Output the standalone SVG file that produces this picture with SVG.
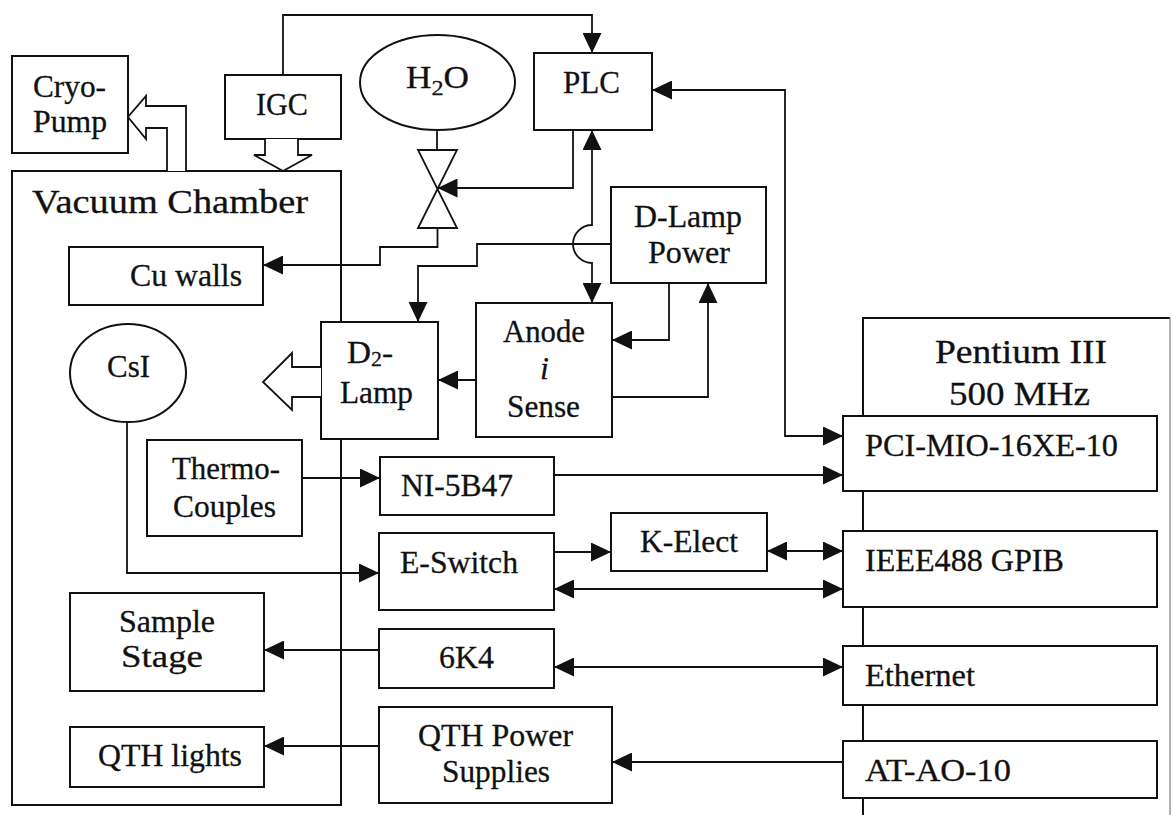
<svg xmlns="http://www.w3.org/2000/svg" width="1173" height="815" viewBox="0 0 1173 815">
<style>
.b{fill:#fff;stroke:#111;stroke-width:2}
.c{fill:none;stroke:#111;stroke-width:1.8}
.h{fill:#fff;stroke:#111;stroke-width:1.8;stroke-linejoin:miter}
.t{font-family:"Liberation Serif","Times New Roman",serif;font-size:32px;fill:#111;stroke:#111;stroke-width:0.3}
.ti{font-family:"Liberation Serif","Times New Roman",serif;font-size:33px;fill:#111;stroke:#111;stroke-width:0.3}
</style>
<defs>
<marker id="ah" markerUnits="userSpaceOnUse" markerWidth="21" markerHeight="19" refX="20" refY="9.5" orient="auto-start-reverse" viewBox="0 0 21 19">
<path d="M0,0 L20,9.5 L0,19 z" fill="#111"/>
</marker>
</defs>
<rect width="1173" height="815" fill="#fff"/>

<g id="vacuum-chamber">
<rect class="b" x="12" y="171" width="329" height="634"/>
<text class="ti" x="32" y="213" textLength="276" lengthAdjust="spacingAndGlyphs">Vacuum Chamber</text>
</g>
<g id="pentium">
<path d="M863,815 V318 H1170" fill="none" stroke="#111" stroke-width="2"/>
<path d="M1170,318 V815" fill="none" stroke="#999" stroke-width="1.5"/>
<text class="ti" x="935" y="363" textLength="172" lengthAdjust="spacingAndGlyphs">Pentium III</text>
<text class="ti" x="949" y="405" textLength="141" lengthAdjust="spacingAndGlyphs">500 MHz</text>
</g>

<g id="cryo-pump">
<rect class="b" x="12" y="56" width="116" height="97"/>
<text class="t" x="33" y="97" textLength="73" lengthAdjust="spacingAndGlyphs">Cryo-</text>
<text class="t" x="33" y="132" textLength="74" lengthAdjust="spacingAndGlyphs">Pump</text>
</g>
<g id="igc">
<rect class="b" x="225" y="75" width="116" height="64"/>
<text class="t" x="256" y="115" textLength="52" lengthAdjust="spacingAndGlyphs">IGC</text>
</g>
<g id="h2o">
<ellipse class="b" cx="437.5" cy="82.5" rx="77.5" ry="47.5"/>
<text class="t" x="406" y="88" font-size="33" textLength="63" lengthAdjust="spacingAndGlyphs">H<tspan font-size="22" dy="7">2</tspan><tspan dy="-7">O</tspan></text>
</g>
<g id="plc">
<rect class="b" x="534" y="53" width="118" height="77"/>
<text class="t" x="563" y="93" textLength="57" lengthAdjust="spacingAndGlyphs">PLC</text>
</g>
<g id="valve">
<path class="h" d="M418,150 L457,150 L418,228 L457,228 Z"/>
</g>
<g id="cu-walls">
<rect class="b" x="69" y="247" width="194" height="58"/>
<text class="t" x="130" y="286" textLength="112" lengthAdjust="spacingAndGlyphs">Cu walls</text>
</g>
<g id="d-lamp-power">
<rect class="b" x="611" y="187" width="155" height="96"/>
<text class="t" x="634" y="227" textLength="108" lengthAdjust="spacingAndGlyphs">D-Lamp</text>
<text class="t" x="648" y="263" textLength="82" lengthAdjust="spacingAndGlyphs">Power</text>
</g>
<g id="d2-lamp">
<rect class="b" x="321" y="322" width="117" height="117"/>
<text class="t" x="347" y="363" textLength="46" lengthAdjust="spacingAndGlyphs">D<tspan font-size="21" dy="3">2</tspan><tspan dy="-3">-</tspan></text>
<text class="t" x="340" y="403" textLength="73" lengthAdjust="spacingAndGlyphs">Lamp</text>
</g>
<g id="anode">
<rect class="b" x="476" y="303" width="136" height="134"/>
<text class="t" x="503" y="342" textLength="82" lengthAdjust="spacingAndGlyphs">Anode</text>
<text class="t" x="540" y="379" font-style="italic">i</text>
<text class="t" x="507" y="417" textLength="73" lengthAdjust="spacingAndGlyphs">Sense</text>
</g>
<g id="csi">
<ellipse class="b" cx="128" cy="373" rx="58" ry="49"/>
<text class="t" x="107" y="377" textLength="43" lengthAdjust="spacingAndGlyphs">CsI</text>
</g>
<g id="thermo-couples">
<rect class="b" x="147" y="440" width="155" height="96"/>
<text class="t" x="172" y="479" textLength="108" lengthAdjust="spacingAndGlyphs">Thermo-</text>
<text class="t" x="173" y="517" textLength="103" lengthAdjust="spacingAndGlyphs">Couples</text>
</g>
<g id="ni-5b47">
<rect class="b" x="380" y="457" width="174" height="58"/>
<text class="t" x="401" y="496" textLength="112" lengthAdjust="spacingAndGlyphs">NI-5B47</text>
</g>
<g id="e-switch">
<rect class="b" x="379" y="533" width="175" height="77"/>
<text class="t" x="400" y="573" textLength="118" lengthAdjust="spacingAndGlyphs">E-Switch</text>
</g>
<g id="k-elect">
<rect class="b" x="611" y="513" width="156" height="58"/>
<text class="t" x="640" y="552" textLength="98" lengthAdjust="spacingAndGlyphs">K-Elect</text>
</g>
<g id="k6k4">
<rect class="b" x="379" y="629" width="175" height="59"/>
<text class="t" x="439" y="668" textLength="55" lengthAdjust="spacingAndGlyphs">6K4</text>
</g>
<g id="qth-power">
<rect class="b" x="379" y="707" width="233" height="96"/>
<text class="t" x="418" y="746" textLength="155" lengthAdjust="spacingAndGlyphs">QTH Power</text>
<text class="t" x="442" y="782" textLength="108" lengthAdjust="spacingAndGlyphs">Supplies</text>
</g>
<g id="sample-stage">
<rect class="b" x="70" y="593" width="194" height="98"/>
<text class="t" x="119" y="632" textLength="96" lengthAdjust="spacingAndGlyphs">Sample</text>
<text class="t" x="121" y="667" textLength="82" lengthAdjust="spacingAndGlyphs">Stage</text>
</g>
<g id="qth-lights">
<rect class="b" x="70" y="727" width="194" height="60"/>
<text class="t" x="98" y="766" textLength="144" lengthAdjust="spacingAndGlyphs">QTH lights</text>
</g>
<g id="pci">
<rect class="b" x="843" y="416" width="314" height="75"/>
<text class="t" x="865" y="456" textLength="253" lengthAdjust="spacingAndGlyphs">PCI-MIO-16XE-10</text>
</g>
<g id="gpib">
<rect class="b" x="843" y="531" width="314" height="76"/>
<text class="t" x="865" y="571" textLength="199" lengthAdjust="spacingAndGlyphs">IEEE488 GPIB</text>
</g>
<g id="ethernet">
<rect class="b" x="843" y="646" width="314" height="59"/>
<text class="t" x="865" y="686" textLength="110" lengthAdjust="spacingAndGlyphs">Ethernet</text>
</g>
<g id="at-ao-10">
<rect class="b" x="843" y="741" width="314" height="57"/>
<text class="t" x="865" y="781" textLength="146" lengthAdjust="spacingAndGlyphs">AT-AO-10</text>
</g>

<g id="connectors">
<path class="h" d="M167,171 V128 H146 V139 L128,117 L146,96 V106 H186 V171"/>
<path class="h" d="M265,139 V155 H254 L283,171 L312,155 H298 V139"/>
<path class="h" d="M321,367 H292 V353 L263,382 L292,410 V397 H321"/>
<path class="c" d="M283,75 V15 H592 V53" marker-end="url(#ah)"/>
<path class="c" d="M437,130 V150"/>
<path class="c" d="M437.5,228 V247 H380 V265 H263" marker-end="url(#ah)"/>
<path class="c" d="M573,130 V188 H437.5" marker-end="url(#ah)"/>
<path class="c" d="M592,130 V225 A19,19 0 0 0 592,263 V303" marker-start="url(#ah)" marker-end="url(#ah)"/>
<path class="c" d="M611,244 H477 V266 H418 V322" marker-end="url(#ah)"/>
<path class="c" d="M669,283 V340 H612" marker-end="url(#ah)"/>
<path class="c" d="M612,397 H708 V283" marker-end="url(#ah)"/>
<path class="c" d="M476,380 H438" marker-end="url(#ah)"/>
<path class="c" d="M652,90 H785 V436 H843" marker-start="url(#ah)" marker-end="url(#ah)"/>
<path class="c" d="M127,422 V573 H379" marker-end="url(#ah)"/>
<path class="c" d="M302,478 H380" marker-end="url(#ah)"/>
<path class="c" d="M554,475 H843" marker-end="url(#ah)"/>
<path class="c" d="M554,552 H611" marker-end="url(#ah)"/>
<path class="c" d="M767,551 H843" marker-start="url(#ah)" marker-end="url(#ah)"/>
<path class="c" d="M554,589 H843" marker-start="url(#ah)" marker-end="url(#ah)"/>
<path class="c" d="M379,650 H264" marker-end="url(#ah)"/>
<path class="c" d="M554,667 H843" marker-start="url(#ah)" marker-end="url(#ah)"/>
<path class="c" d="M379,746 H264" marker-end="url(#ah)"/>
<path class="c" d="M843,762 H612" marker-end="url(#ah)"/>
</g>
</svg>
